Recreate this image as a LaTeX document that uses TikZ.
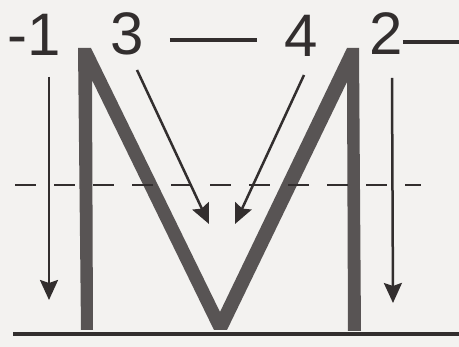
\documentclass[tikz,border=0pt]{standalone}
\usepackage{fontspec}
\setmainfont{Liberation Sans}
\usetikzlibrary{arrows.meta}
\definecolor{paper}{RGB}{243,242,240}
\definecolor{lettergray}{RGB}{88,84,84}
\definecolor{inkdark}{RGB}{50,46,46}
\tikzset{
    strokelabel/.style={inner sep=0pt, font=\fontsize{60}{60}\selectfont, text=inkdark},
    strokearrow/.style={-{Stealth[length=20pt, width=18pt, inset=3pt]}, line width=2.5pt, draw=inkdark},
    joinline/.style={line width=4pt, draw=inkdark},
    midline/.style={line width=2.5pt, draw=inkdark, dash pattern=on 21pt off 18pt},
    groundline/.style={line width=4.5pt, draw=inkdark},
    lettershape/.style={fill=lettergray}
}

\begin{document}
\begin{tikzpicture}[x=1pt, y=-1pt]
        \fill[paper] (0,0) rectangle (459,347);
        \useasboundingbox (0,0) rectangle (459,347);
        \node[strokelabel] (one) at (34,35) {-1};
        \node[strokelabel] (three) at (127,34) {3};
        \node[strokelabel] (four) at (301,36) {4};
        \node[strokelabel] (two) at (386,34) {2};
        \coordinate (twoend) at (459,42);
        \coordinate (onetop) at (49,77);
        \coordinate (onetip) at (49,300);
        \coordinate (threetop) at (137,70);
        \coordinate (threetip) at (209,224);
        \coordinate (fourtop) at (304,75);
        \coordinate (fourtip) at (235,224);
        \coordinate (twotop) at (392,78);
        \coordinate (twotip) at (393,303);
        \fill[lettershape] (81,330) -- (78,48) -- (91,48) -- (220,312) -- (347,48) -- (359,48)
            -- (361,331) -- (348,331) -- (347,82) -- (227,330) -- (214,330) -- (92,80) -- (93,330) -- cycle;
        \draw[midline] (15,185) -- (421,185);
        \draw[groundline] (13,334) -- (459,334);
        \draw[joinline] ([xshift=26pt,yshift=-6pt]three.east) -- ([xshift=-27pt,yshift=-4pt]four.west);
        \draw[joinline] ([yshift=-8pt]two.east) -- (twoend);
        \draw[strokearrow] (onetop) -- (onetip);
        \draw[strokearrow] (threetop) -- (threetip);
        \draw[strokearrow] (fourtop) -- (fourtip);
        \draw[strokearrow] (twotop) -- (twotip);
    \end{tikzpicture}
\end{document}
